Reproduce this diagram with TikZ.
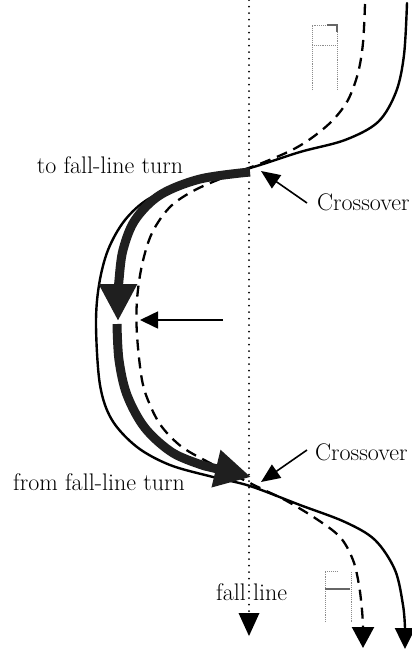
\documentclass[tikz,border=0pt]{standalone}
\usetikzlibrary{arrows.meta}
\begin{document}
\begin{tikzpicture}[x=1pt,y=-1pt,
  lbl/.style={font=\fontsize{24}{28}\selectfont, inner sep=0pt},
  track/.style={line width=2.4pt, line cap=round},
  dtrack/.style={line width=2.3pt, dash pattern=on 11pt off 7pt},
  thick path/.style={line width=9pt, black!88},
  ptr/.style={line width=1.6pt, -{Triangle[length=19pt,width=16pt]}},
  ski/.style={black!45, line width=0.9pt, densely dotted}
]
\useasboundingbox (0,0) rectangle (412,649);

% fall line
\draw[line width=2pt, dash pattern=on 0pt off 6.5pt, line cap=round] (249,0) -- (249,612);
\fill (238.5,613) -- (259.5,613) -- (249,636) -- cycle;
\node[lbl, anchor=west] (fl) at (216,592) {fall line};

% solid track
\draw[track, -{Triangle[length=21pt,width=20pt]}] plot[smooth, tension=0.55] coordinates {
 (407,3) (404,55) (396,92) (378,122) (345,140) (300,152) (250,168) (190,183)
 (150,198) (125,220) (108,250) (99,285) (96,325) (100,385) (112,420) (137,447)
 (170,465) (213,477) (250,486) (300,505) (345,522) (375,540) (395,570) (403,605) (405,628)} -- (405,649);

% dashed track
\draw[dtrack, -{Triangle[length=21pt,width=22pt]}] plot[smooth, tension=0.55] coordinates {
 (365,4) (363,43) (358,73) (348,100) (333,120) (313,137) (292,150) (262,163) (230,175)
 (195,190) (170,207) (152,233) (142,265) (137,300) (137,335) (142,380) (150,405)
 (162,427) (182,447) (210,463) (240,478) (262,489) (285,500) (315,518) (340,537)
 (353,560) (359,585) (362,610) (363,627)} -- (363,648);

% thick path (skier's path)
\draw[thick path, -{Triangle[length=37pt,width=36pt]}] plot[smooth, tension=0.55] coordinates {
 (250,172) (200,179) (160,195) (135,220) (123,250) (119,280) (118,298)} -- (118,321);
\draw[thick path, -{Triangle[length=36pt,width=36pt]}] plot[smooth, tension=0.55] coordinates {
 (117,324) (119,360) (127,395) (145,428) (173,453) (205,466)} -- (251,477);

% left pointer
\draw[line width=1.6pt, -{Triangle[length=18pt,width=17pt]}] (223,320) -- (140,320);

% crossover labels and pointers
\node[lbl, anchor=west] (c1) at (317,202) {Crossover};
\node[lbl, anchor=west] (c2) at (315,452) {Crossover};
\draw[ptr] (307,203) -- (261,171);
\draw[ptr] (307,450) -- (261,482);

\node[lbl] (t1) at (110,165) {to fall-line turn};
\node[lbl] (t2) at (99,482) {from fall-line turn};

% faint ski sketches
\draw[ski] (312,90) -- (312,25) -- (337,25) -- (337,90);
\draw[ski] (312,45) -- (336,45);
\draw[black!60, line width=1.6pt] (327,25) -- (337,25) -- (337,32);
\draw[ski] (325,622) -- (325,571) -- (338,571);
\draw[ski] (351,572) -- (351,622);
\draw[black!60, line width=1.2pt] (325,589) -- (350,589);
\end{tikzpicture}
\end{document}
